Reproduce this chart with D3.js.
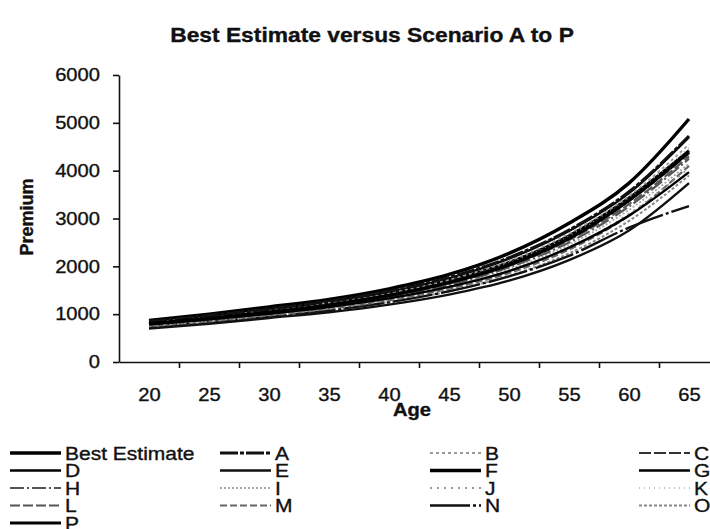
<!DOCTYPE html>
<html>
  <head>
    <meta charset="utf-8">
    <script type="text/javascript" src="https://cdnjs.cloudflare.com/ajax/libs/d3/7.8.5/d3.min.js"></script>
    <style media="screen">
    body{
      margin:0;
      background-color:#fff;
    }
    text{
      font-family:"Liberation Sans", Arial, sans-serif;
      fill:#111;
      stroke:#111;
      stroke-width:0.35px;
    }
    .domain, .tick line{
      stroke:#111;
      stroke-width:1.6px;
    }
    </style>
    <title>Best Estimate versus Scenario A to P</title>
  </head>
  <body>
    <div id="graph"></div>

    <script type="text/javascript">

    // ages on the x axis (one point every 5 years)
    var ages=[20,25,30,35,40,45,50,55,60,65];
    var tickBounds=[22.5,27.5,32.5,37.5,42.5,47.5,52.5,57.5,62.5];
    var premiumTicks=[0,1000,2000,3000,4000,5000,6000];
    var seriesNames=['Best Estimate','A','B','C','D','E','F','G','H','I','J','K','L','M','N','O','P'];

    // premium per scenario
    var bestEstimate=[800,910,1040,1190,1390,1660,2030,2580,3380,4390];
    var scenA=[850,970,1110,1270,1480,1770,2180,2760,3560,4725];
    var scenB=[830,940,1080,1240,1440,1720,2110,2680,3470,4550];
    var scenC=[810,920,1050,1200,1400,1670,2040,2590,3370,4360];
    var scenD=[790,890,1010,1150,1330,1570,1900,2390,3060,3970];
    var scenE=[700,800,920,1040,1200,1410,1700,2130,2750,3740];
    var scenF=[870,1000,1150,1310,1530,1830,2270,2900,3740,5080];
    var scenG=[840,960,1100,1260,1470,1750,2160,2740,3530,4700];
    var scenH=[780,880,1010,1160,1350,1610,1980,2500,3250,4250];
    var scenI=[770,870,1000,1140,1330,1580,1940,2450,3180,4150];
    var scenJ=[750,850,980,1120,1300,1550,1890,2380,3100,4050];
    var scenK=[810,920,1060,1220,1420,1690,2070,2630,3420,4480];
    var scenL=[790,900,1030,1180,1370,1640,2010,2550,3300,4300];
    var scenM=[740,840,970,1110,1290,1530,1860,2350,3060,4100];
    var scenN=[760,850,950,1080,1250,1480,1790,2220,2810,3260];
    var scenO=[720,820,950,1080,1250,1480,1800,2270,2950,3900];
    var scenP=[820,930,1070,1220,1420,1700,2080,2640,3430,4420];

    var allSeries=[bestEstimate,scenA,scenB,scenC,scenD,scenE,scenF,scenG,scenH,scenI,scenJ,scenK,scenL,scenM,scenN,scenO,scenP];

    // line look for each series (stroke, width, dash)
    var looks=[
      {c:'#000',w:3.4,d:null},
      {c:'#111',w:3,d:'18,2,4,2'},
      {c:'#999',w:1.8,d:'3,3'},
      {c:'#333',w:2.2,d:'12,3'},
      {c:'#000',w:2.4,d:null},
      {c:'#111',w:2.4,d:null},
      {c:'#000',w:3.4,d:null},
      {c:'#000',w:2.4,d:null},
      {c:'#555',w:2.2,d:'14,3,2,3'},
      {c:'#aaa',w:1.8,d:'2,2'},
      {c:'#999',w:1.8,d:'2,5'},
      {c:'#aaa',w:1.6,d:'1,4'},
      {c:'#555',w:2.2,d:'10,3'},
      {c:'#666',w:2.2,d:'7,3'},
      {c:'#111',w:2.4,d:'40,3,3,3'},
      {c:'#888',w:2,d:'3,2'},
      {c:'#000',w:3,d:null}
    ];

    var width=710,height=529;
    var svg=d3.select('#graph').append('svg').attr('width',width).attr('height',height);

    var x=d3.scaleLinear().domain([17.5,67.5]).range([119,719]);
    var y=d3.scaleLinear().domain([0,6000]).range([362,75]);

    function stretch(sel,k){
      sel.each(function(){
        var t=d3.select(this);
        var tx=+t.attr('x')||0;
        t.attr('x',null).attr('transform','translate('+tx+',0) scale('+k+',1)');
      });
    }

    // title
    svg.append('text').attr('x',0).attr('y',0)
      .attr('transform','translate(372,42) scale(1.14,1)')
      .attr('text-anchor','middle').attr('font-weight','bold').attr('font-size',20)
      .text('Best Estimate versus Scenario A to P');

    // y axis
    var yAxis=svg.append('g').attr('transform','translate(119,0)')
      .call(d3.axisLeft(y).tickValues(premiumTicks).tickSize(6).tickSizeOuter(0).tickPadding(13).tickFormat(d3.format('d')));
    yAxis.selectAll('text').attr('font-size',18).attr('font-family','Liberation Sans, Arial');
    stretch(yAxis.selectAll('text'),1.12);

    // x axis: ticks between the labels, labels on the ages
    var xAxis=svg.append('g').attr('transform','translate(0,362)')
      .call(d3.axisBottom(x).tickValues(tickBounds).tickSize(6).tickSizeOuter(0).tickFormat(''));
    var xLabels=svg.append('g').attr('transform','translate(0,362)')
      .call(d3.axisBottom(x).tickValues(ages).tickSize(0).tickPadding(26));
    xLabels.select('.domain').remove();
    xLabels.selectAll('text').attr('font-size',18).attr('font-family','Liberation Sans, Arial');
    stretch(xLabels.selectAll('text'),1.12);

    svg.append('text').attr('transform','translate(33,217) rotate(-90)')
      .attr('text-anchor','middle').attr('font-weight','bold').attr('font-size',18)
      .text('Premium');
    svg.append('text').attr('transform','translate(412,416) scale(1.12,1)')
      .attr('text-anchor','middle').attr('font-weight','bold').attr('font-size',18)
      .text('Age');

    // lines
    var line=d3.line().x(function(d,i){return x(ages[i]);}).y(function(d){return y(d);}).curve(d3.curveMonotoneX);
    var order=d3.range(allSeries.length).reverse();
    svg.selectAll('path.series').data(order).enter().append('path')
      .attr('class','series')
      .attr('d',function(k){return line(allSeries[k]);})
      .attr('fill','none')
      .attr('stroke',function(k){return looks[k].c;})
      .attr('stroke-width',function(k){return looks[k].w;})
      .attr('stroke-dasharray',function(k){return looks[k].d;});

    // legend, 4 columns
    var colX=[10,220,430,639];
    var legend=svg.selectAll('g.key').data(seriesNames).enter().append('g')
      .attr('class','key')
      .attr('transform',function(d,i){return 'translate('+colX[i%4]+','+(453+Math.floor(i/4)*17.5)+')';});
    legend.append('line').attr('x1',0).attr('x2',51).attr('y1',0).attr('y2',0)
      .attr('stroke',function(d,i){return looks[i].c;})
      .attr('stroke-width',function(d,i){return looks[i].w;})
      .attr('stroke-dasharray',function(d,i){return looks[i].d;});
    legend.append('text').attr('transform','translate(55,6.5) scale(1.2,1)')
      .attr('font-size',17.5)
      .text(function(d){return d;});

    </script>
  </body>
</html>
